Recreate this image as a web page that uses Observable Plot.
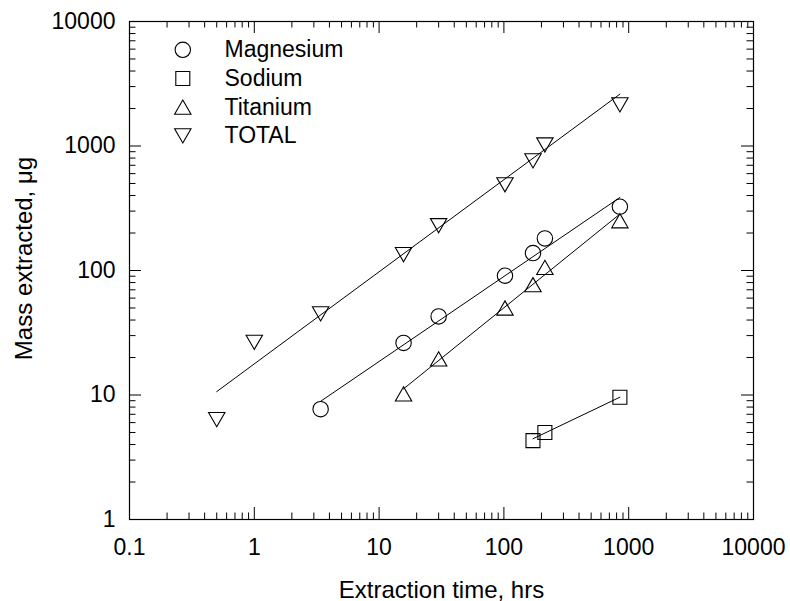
<!DOCTYPE html>
<html><head><meta charset="utf-8">
<script src="https://cdn.jsdelivr.net/npm/d3@7"></script>
<script src="https://cdn.jsdelivr.net/npm/@observablehq/plot@0.6"></script>
<style>
body{margin:0;background:#fff;}
#chart svg{display:block;}
</style></head><body><div id="chart"></div>
<script>
// ---- data ----
const seriesNames = ["Magnesium", "Sodium", "Titanium", "TOTAL"];

const timeMg = [3.4, 15.7, 30, 102, 171, 213, 850];
const massMg = [7.7, 26.2, 42.8, 90.8, 138, 181, 325];

const timeNa = [171, 213, 850];
const massNa = [4.3, 5.0, 9.6];

const timeTi = [15.7, 30, 102, 171, 213, 850];
const massTi = [10.2, 19.5, 50, 76.9, 106, 251];

const timeTot = [0.5, 1, 3.4, 15.7, 30, 102, 171, 213, 850];
const massTot = [6.35, 26.5, 44.8, 134, 229, 488, 760, 1020, 2140];

// fitted power-law lines (end points)
const fitTimeMg = [3.4, 850],  fitMassMg = [8.9, 386];
const fitTimeNa = [171, 850],  fitMassNa = [4.45, 9.6];
const fitTimeTi = [15.7, 850], fitMassTi = [11.2, 284];
const fitTimeTot = [0.5, 850], fitMassTot = [10.65, 2610];

const xTicks = [0.1, 1, 10, 100, 1000, 10000];
const yTicks = [1, 10, 100, 1000, 10000];
const minorMult = [2, 3, 4, 5, 6, 7, 8, 9];

// ---- layout ----
const W = 790, H = 601;
const mL = 129, mR = 37, mT = 21, mB = 82;
const innerW = W - mL - mR, innerH = H - mT - mB;
const FONT = "Arial, 'Liberation Sans', Helvetica, sans-serif";

// ---- symbols (size = PI r^2) ----
const rad = size => Math.sqrt(size / Math.PI);
const symCircle = {draw(c, s){const r = rad(s); c.moveTo(r, 0); c.arc(0, 0, r, 0, 2*Math.PI);}};
const symSquare = {draw(c, s){const r = rad(s); c.rect(-r, -r, 2*r, 2*r);}};
const symUp = {draw(c, s){const r = rad(s), h = r*0.866; c.moveTo(0, -h); c.lineTo(r, h); c.lineTo(-r, h); c.closePath();}};
const symDown = {draw(c, s){const r = rad(s), h = r*0.866; c.moveTo(0, h); c.lineTo(r, -h); c.lineTo(-r, -h); c.closePath();}};

const series = [
  {name: seriesNames[0], t: timeMg, m: massMg, ft: fitTimeMg, fm: fitMassMg, symbol: symCircle, r: 7.7},
  {name: seriesNames[1], t: timeNa, m: massNa, ft: fitTimeNa, fm: fitMassNa, symbol: symSquare, r: 7},
  {name: seriesNames[2], t: timeTi, m: massTi, ft: fitTimeTi, fm: fitMassTi, symbol: symUp, r: 8.2},
  {name: seriesNames[3], t: timeTot, m: massTot, ft: fitTimeTot, fm: fitMassTot, symbol: symDown, r: 8.2}
];

const xMinor = xTicks.slice(0, -1).flatMap(d => minorMult.map(k => d * k));
const yMinor = yTicks.slice(0, -1).flatMap(d => minorMult.map(k => d * k));

const MAJ = 12, MIN = 6.5;
const marks = [];

// ticks on all four sides, pointing inward
marks.push(Plot.tickX(xTicks, {x: d => d, insetTop: innerH - MAJ, stroke: "black"}));
marks.push(Plot.tickX(xTicks, {x: d => d, insetBottom: innerH - MAJ, stroke: "black"}));
marks.push(Plot.tickX(xMinor, {x: d => d, insetTop: innerH - MIN, stroke: "black"}));
marks.push(Plot.tickX(xMinor, {x: d => d, insetBottom: innerH - MIN, stroke: "black"}));
marks.push(Plot.tickY(yTicks, {y: d => d, insetRight: innerW - MAJ, stroke: "black"}));
marks.push(Plot.tickY(yTicks, {y: d => d, insetLeft: innerW - MAJ, stroke: "black"}));
marks.push(Plot.tickY(yMinor, {y: d => d, insetRight: innerW - MIN, stroke: "black"}));
marks.push(Plot.tickY(yMinor, {y: d => d, insetLeft: innerW - MIN, stroke: "black"}));
marks.push(Plot.frame({stroke: "black", strokeWidth: 1.2}));

// tick labels
marks.push(Plot.axisX(xTicks, {anchor: "bottom", tickSize: 0, tickPadding: 19, fontSize: 23, tickFormat: d => String(d), label: null}));
marks.push(Plot.axisY(yTicks, {anchor: "left", tickSize: 0, tickPadding: 14, fontSize: 23, tickFormat: d => String(d), label: null}));

// data + fits
for (const s of series) {
  const fit = s.ft.map((t, i) => ({t, m: s.fm[i]}));
  const pts = s.t.map((t, i) => ({t, m: s.m[i]}));
  marks.push(Plot.line(fit, {x: "t", y: "m", stroke: "black", strokeWidth: 1}));
  marks.push(Plot.dot(pts, {x: "t", y: "m", symbol: s.symbol, r: s.r, stroke: "black", fill: "none", strokeWidth: 1.1}));
}

// legend inside the frame
series.forEach((s, i) => {
  const dy = 28.3 + 28.7 * i;
  marks.push(Plot.dot([s.name], {frameAnchor: "top-left", dx: 53.3, dy, symbol: s.symbol, r: s.r, stroke: "black", fill: "none", strokeWidth: 1.1}));
  marks.push(Plot.text([s.name], {frameAnchor: "top-left", dx: 95, dy, text: d => d, textAnchor: "start", lineAnchor: "middle", fontSize: 23, fill: "black"}));
});

// axis titles
marks.push(Plot.text(["Extraction time, hrs"], {frameAnchor: "bottom", dy: 78, text: d => d, textAnchor: "middle", lineAnchor: "bottom", fontSize: 24, fill: "black"}));
marks.push(Plot.text(["Mass extracted, μg"], {frameAnchor: "left", dx: -98, dy: -12, text: d => d, rotate: -90, textAnchor: "middle", lineAnchor: "bottom", fontSize: 24, fill: "black"}));

const chart = Plot.plot({
  width: W, height: H,
  marginLeft: mL, marginRight: mR, marginTop: mT, marginBottom: mB,
  style: {fontFamily: FONT, background: "white", color: "black", overflow: "visible"},
  x: {type: "log", domain: [0.1, 10000]},
  y: {type: "log", domain: [1, 10000]},
  marks
});
document.getElementById("chart").appendChild(chart);
</script></body></html>
